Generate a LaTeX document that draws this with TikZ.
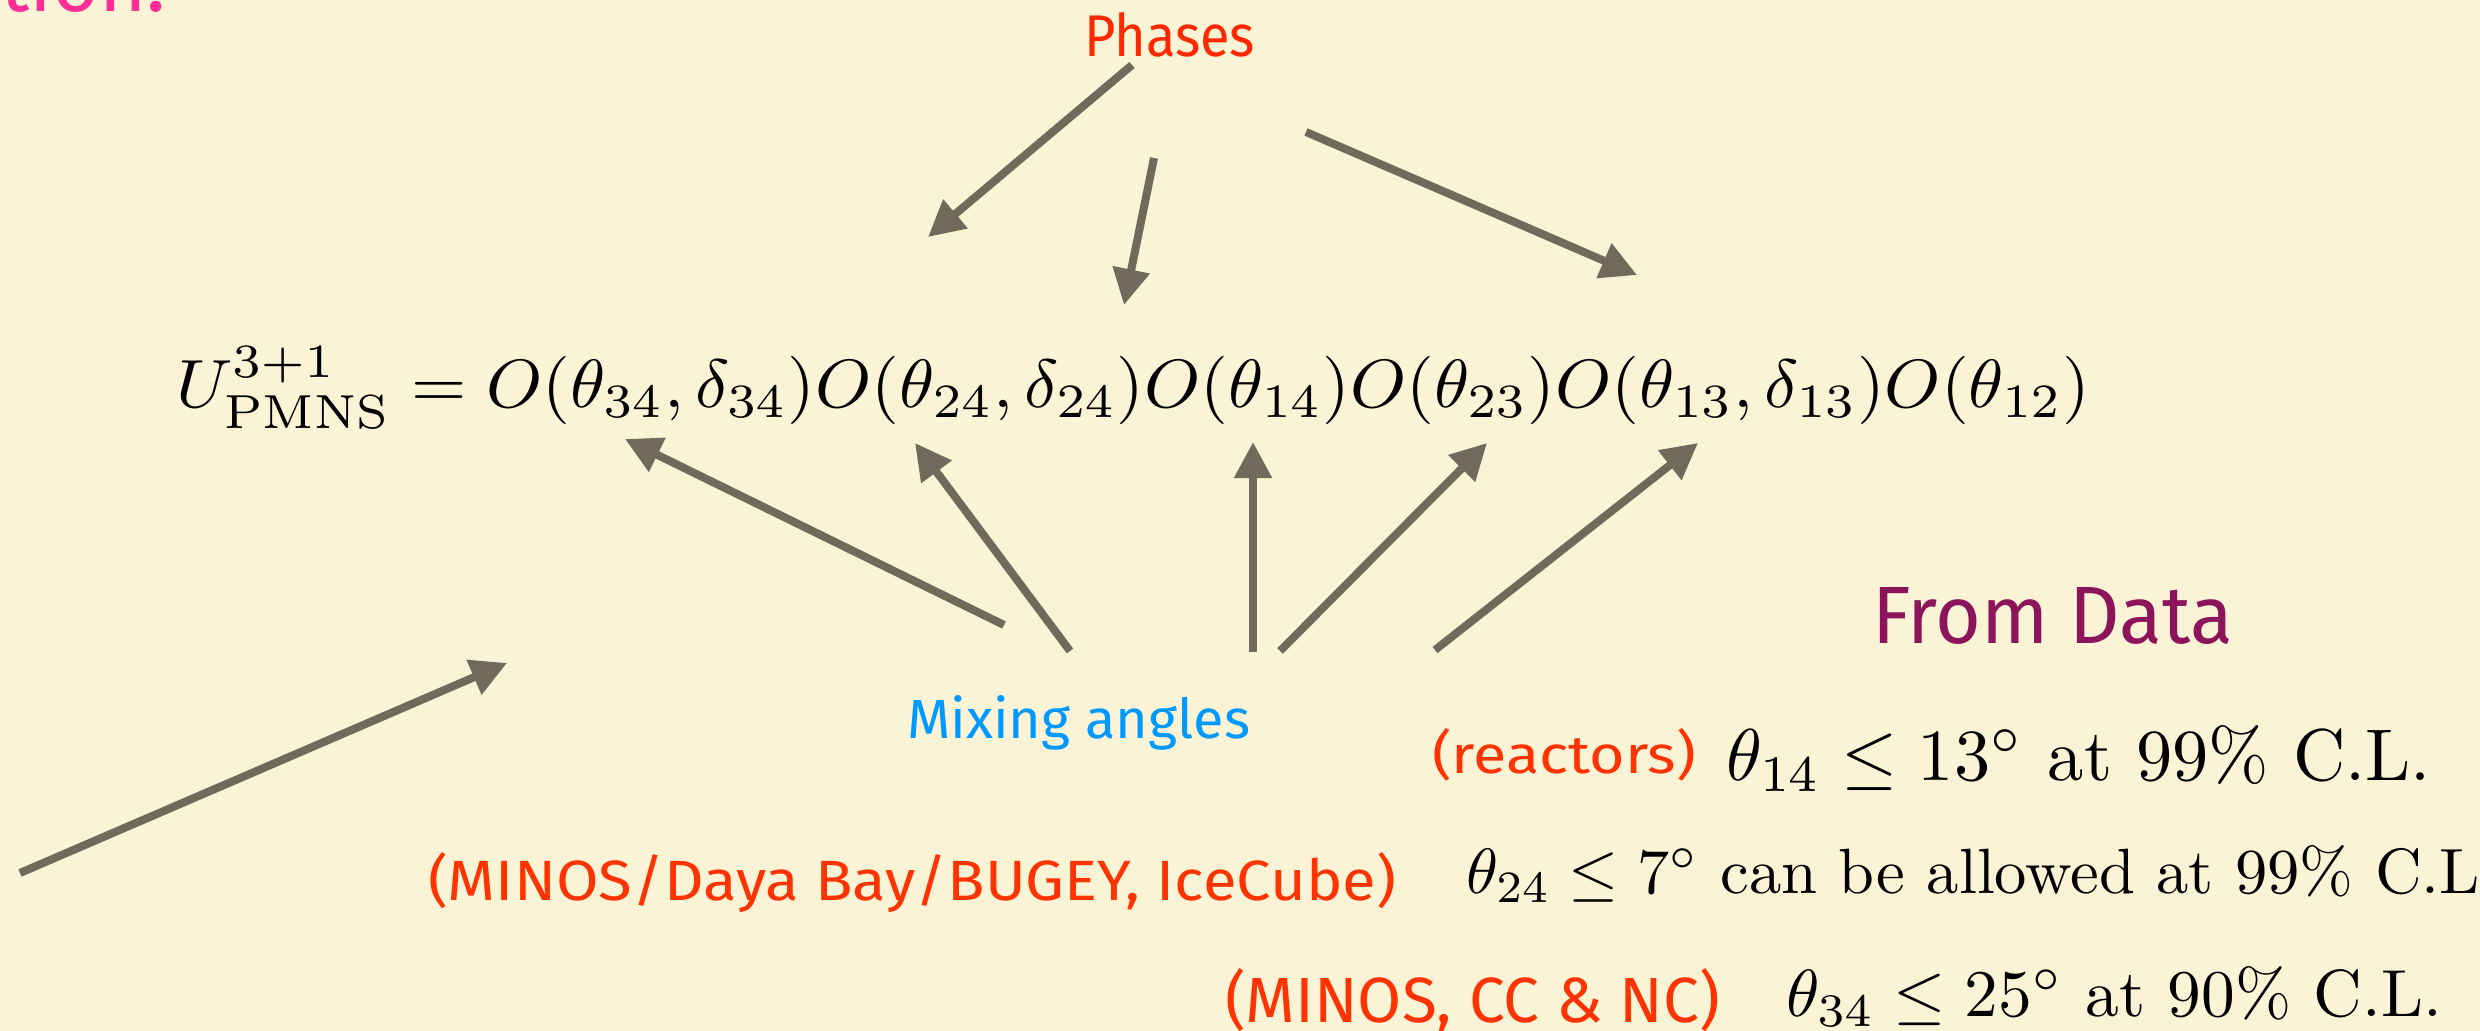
\documentclass[tikz,border=0pt]{standalone}
\usepackage{fontspec}
\usepackage{graphicx}
\usetikzlibrary{arrows.meta}
\newfontfamily\comicf{Fira Sans}
\definecolor{bgcream}{RGB}{251,243,213}
\definecolor{arrowgray}{RGB}{111,106,90}
\definecolor{phred}{RGB}{255,40,0}
\definecolor{labred}{RGB}{255,51,0}
\definecolor{mixblue}{RGB}{0,153,255}
\definecolor{datapurple}{RGB}{140,20,90}
\definecolor{titlepink}{RGB}{255,45,150}
\tikzset{
  arr/.style={draw=arrowgray, line width=0.08cm, line cap=butt,
    -{Triangle[length=0.36cm,width=0.36cm]}},
  lab/.style={inner sep=0pt, outer sep=0pt, anchor=base west},
}
\begin{document}
\begin{tikzpicture}[x=1cm,y=-1cm]
\useasboundingbox (0,0) rectangle (24.8,10.31);
\clip (0,0) rectangle (24.8,10.31);
\fill[bgcream] (0,0) rectangle (24.8,10.31);

% partial title at top-left
\node[inner sep=0pt, anchor=base east, text=titlepink] (title) at (1.67,0.12)
  {\comicf\fontsize{23}{28}\selectfont ation:};

% labels
\node[lab, text=phred] (phases) at (10.84,0.57)
  {\resizebox{1.71cm}{0.44cm}{\comicf Phases}};
\node[lab, text=mixblue] (mixing) at (9.07,7.38)
  {\resizebox{3.43cm}{0.43cm}{\comicf Mixing angles}};
\node[lab, text=datapurple] (fromdata) at (18.72,6.43)
  {\resizebox{3.61cm}{0.56cm}{\comicf From Data}};
\node[lab, text=labred] (reactors) at (14.32,7.73)
  {\resizebox{2.64cm}{0.45cm}{\comicf (reactors)}};
\node[lab, text=labred] (minosdb) at (4.28,9.00)
  {\resizebox{9.68cm}{0.48cm}{\comicf (MINOS/Daya Bay/BUGEY, IceCube)}};
\node[lab, text=labred] (minoscc) at (12.25,10.22)
  {\resizebox{4.95cm}{0.54cm}{\comicf (MINOS, CC \& NC)}};

% equation
\node[lab] (eq) at (1.76,4.07)
  {\resizebox{19.14cm}{0.60cm}{$U^{3+1}_{\mathrm{PMNS}} = O(\theta_{34},\delta_{34})O(\theta_{24},\delta_{24})O(\theta_{14})O(\theta_{23})O(\theta_{13},\delta_{13})O(\theta_{12})$}};

% data lines
\node[lab] (d1) at (17.26,7.80)
  {\resizebox{7.05cm}{0.55cm}{$\theta_{14}\le 13^\circ$ at 99\% C.L.}};
\node[lab] (d2) at (14.66,8.93)
  {\resizebox{10.14cm}{0.48cm}{$\theta_{24}\le 7^\circ$ can be allowed at 99\% C.L}};
\node[lab] (d3) at (17.86,10.16)
  {\resizebox{6.56cm}{0.50cm}{$\theta_{34}\le 25^\circ$ at 90\% C.L.}};

% arrow end points
\coordinate (p1s) at (11.32,0.65);  \coordinate (p1e) at (9.28,2.37);
\coordinate (p2s) at (11.54,1.58);  \coordinate (p2e) at (11.24,3.05);
\coordinate (p3s) at (13.06,1.32);  \coordinate (p3e) at (16.37,2.75);

\coordinate (m1s) at (10.04,6.25);  \coordinate (m1e) at (6.25,4.39);
\coordinate (m2s) at (10.70,6.51);  \coordinate (m2e) at (9.15,4.43);
\coordinate (m3s) at (12.53,6.52);  \coordinate (m3e) at (12.53,4.42);
\coordinate (m4s) at (12.80,6.51);  \coordinate (m4e) at (14.87,4.43);
\coordinate (m5s) at (14.35,6.50);  \coordinate (m5e) at (16.98,4.43);

\coordinate (ls) at (0.20,8.73);    \coordinate (le) at (5.07,6.63);

% arrows
\draw[arr] (p1s) -- (p1e);
\draw[arr] (p2s) -- (p2e);
\draw[arr] (p3s) -- (p3e);
\draw[arr] (m1s) -- (m1e);
\draw[arr] (m2s) -- (m2e);
\draw[arr] (m3s) -- (m3e);
\draw[arr] (m4s) -- (m4e);
\draw[arr] (m5s) -- (m5e);
\draw[arr] (ls) -- (le);
\end{tikzpicture}
\end{document}
